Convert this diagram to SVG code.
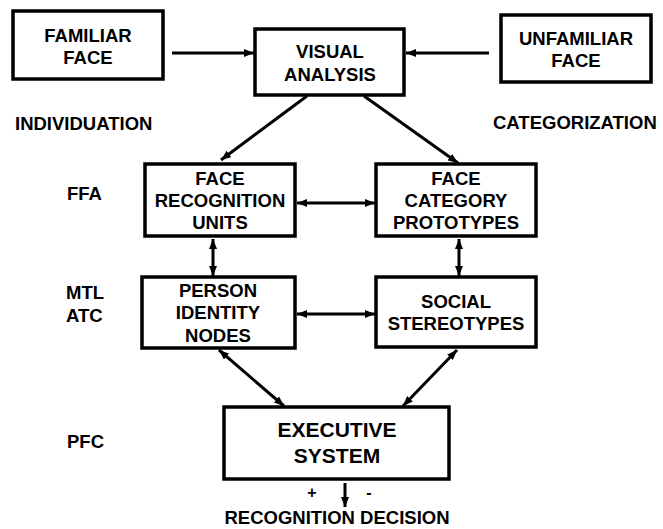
<svg xmlns="http://www.w3.org/2000/svg" width="663" height="529" viewBox="0 0 663 529">
<style>
.box{fill:#fff;stroke:#000;stroke-width:3.5}
text{font-family:"Liberation Sans",Arial,sans-serif;font-weight:bold;font-size:18.5px;fill:#000}
.c{text-anchor:middle}
.big{font-size:21px}
.ln{stroke:#000;stroke-width:3;fill:none}
</style>
<defs>
<marker id="ah" viewBox="0 0 10 8" refX="10" refY="4" markerWidth="10" markerHeight="8" markerUnits="userSpaceOnUse" orient="auto-start-reverse">
<path d="M0,0 L10,4 L0,8 Z" fill="#000"/>
</marker>
</defs>
<rect width="663" height="529" fill="#fff"/>
<g id="connectors">
<line class="ln" x1="172" y1="53" x2="254" y2="53" marker-end="url(#ah)"/>
<line class="ln" x1="489" y1="53" x2="406" y2="53" marker-end="url(#ah)"/>
<line class="ln" x1="307" y1="96" x2="221" y2="160" marker-end="url(#ah)"/>
<line class="ln" x1="364" y1="96" x2="458" y2="163" marker-end="url(#ah)"/>
<line class="ln" x1="297" y1="203" x2="375" y2="203" marker-start="url(#ah)" marker-end="url(#ah)"/>
<line class="ln" x1="213" y1="239" x2="213" y2="276" marker-start="url(#ah)" marker-end="url(#ah)"/>
<line class="ln" x1="459" y1="239" x2="459" y2="276" marker-start="url(#ah)" marker-end="url(#ah)"/>
<line class="ln" x1="297" y1="314" x2="375" y2="314" marker-start="url(#ah)" marker-end="url(#ah)"/>
<line class="ln" x1="219" y1="350" x2="284" y2="406" marker-start="url(#ah)" marker-end="url(#ah)"/>
<line class="ln" x1="457" y1="350" x2="403" y2="406" marker-start="url(#ah)" marker-end="url(#ah)"/>
<line class="ln" x1="345" y1="483" x2="345" y2="507" marker-end="url(#ah)"/>
</g>
<g id="familiar">
<rect class="box" x="13" y="11" width="150" height="68"/>
<text class="c" x="88" y="42">FAMILIAR</text>
<text class="c" x="88" y="64">FACE</text>
</g>
<g id="visual">
<rect class="box" x="255" y="29" width="149" height="66"/>
<text class="c" x="330" y="58">VISUAL</text>
<text class="c" x="330" y="81">ANALYSIS</text>
</g>
<g id="unfamiliar">
<rect class="box" x="501" y="15" width="150" height="67"/>
<text class="c" x="576" y="45">UNFAMILIAR</text>
<text class="c" x="576" y="67">FACE</text>
</g>
<g id="labels">
<text x="15" y="130">INDIVIDUATION</text>
<text x="493" y="129">CATEGORIZATION</text>
<text x="67" y="200">FFA</text>
<text x="66" y="299">MTL</text>
<text x="66" y="322">ATC</text>
<text x="67" y="448">PFC</text>
</g>
<g id="fru">
<rect class="box" x="145" y="164" width="150" height="72"/>
<text class="c" x="220" y="185">FACE</text>
<text class="c" x="220" y="207">RECOGNITION</text>
<text class="c" x="220" y="229">UNITS</text>
</g>
<g id="fcp">
<rect class="box" x="376" y="164" width="160" height="72"/>
<text class="c" x="456" y="185">FACE</text>
<text class="c" x="456" y="207">CATEGORY</text>
<text class="c" x="456" y="229">PROTOTYPES</text>
</g>
<g id="pin">
<rect class="box" x="142" y="277" width="153" height="71"/>
<text class="c" x="218" y="297">PERSON</text>
<text class="c" x="218" y="319">IDENTITY</text>
<text class="c" x="218" y="342">NODES</text>
</g>
<g id="social">
<rect class="box" x="376" y="277" width="160" height="70"/>
<text class="c" x="456" y="308">SOCIAL</text>
<text class="c" x="456" y="330">STEREOTYPES</text>
</g>
<g id="executive">
<rect class="box" x="224" y="407" width="225" height="72"/>
<text class="c big" x="337" y="437">EXECUTIVE</text>
<text class="c big" x="337" y="463">SYSTEM</text>
</g>
<g id="decision">
<text class="c" x="312" y="498" style="font-size:16px">+</text>
<text class="c" x="369" y="498" style="font-size:16px">-</text>
<text class="c" x="337" y="524">RECOGNITION DECISION</text>
</g>
</svg>
